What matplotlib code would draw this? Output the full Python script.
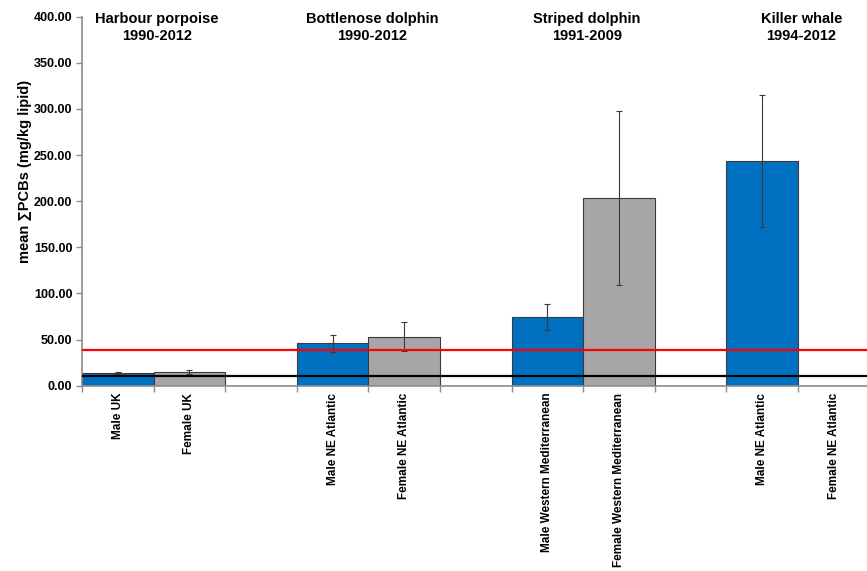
import matplotlib
matplotlib.use("Agg")
import matplotlib.pyplot as plt
import numpy as np

plt.rcParams['font.family'] = ['Liberation Sans', 'DejaVu Sans']

# ---- data ----
categories = ["Male UK", "Female UK", "",
              "Male NE Atlantic", "Female NE Atlantic", "",
              "Male Western Mediterranean", "Female Western Mediterranean", "",
              "Male NE Atlantic", "Female NE Atlantic"]
means = [13.4, 14.5, None, 46.0, 53.1, None, 74.1, 203.5, None, 243.6, None]
errors = [1.0, 2.0, None, 9.0, 16.0, None, 14.0, 94.0, None, 72.0, None]
sexes = ["M", "F", None, "M", "F", None, "M", "F", None, "M", "F"]
groups = ["Harbour porpoise\n1990-2012", "Bottlenose dolphin\n1990-2012",
          "Striped dolphin\n1991-2009", "Killer whale\n1994-2012"]
group_first_index = [0, 3, 6, 9]
threshold_low = 10.0
threshold_high = 38.5
yticks = [0, 50, 100, 150, 200, 250, 300, 350, 400]

colors = {"M": "#0070C0", "F": "#A6A6A6"}
axis_gray = "#8C8C8C"

fig = plt.figure(figsize=(8.67, 5.71), dpi=100)
ax = fig.add_axes([0.0946, 0.3245, 0.9084, 0.6463])

x = np.arange(len(categories))
for i, (m, e, s) in enumerate(zip(means, errors, sexes)):
    if m is None:
        continue
    ax.bar(x[i], m, width=1.0, color=colors[s], edgecolor="#3A3A3A",
           linewidth=0.8, zorder=2)
    ax.errorbar(x[i], m, yerr=e, fmt='none', ecolor="#3A3A3A",
                elinewidth=0.8, capsize=2.5, capthick=0.8, zorder=3)

ax.axhline(threshold_high, color="#FF0000", lw=1.6, zorder=4)
ax.axhline(threshold_low, color="#000000", lw=1.6, zorder=4)

ax.set_xlim(-0.5, len(categories) - 0.5)
ax.set_ylim(0, 400)
ax.set_yticks(yticks)
ax.set_yticklabels([f"{v:.2f}" for v in yticks], fontsize=9, fontweight='bold')

# x ticks at slot boundaries, labels at centres
ax.set_xticks(np.arange(-0.5, len(categories) + 0.5, 1.0))
ax.set_xticklabels([])
ax.set_xticks(x, minor=True)
ax.set_xticklabels(categories, minor=True, rotation=90, fontsize=8.5,
                   fontweight='bold', va='top', ha='center')
ax.tick_params(axis='x', which='minor', length=0, pad=5)
ax.tick_params(axis='x', which='major', length=4, color=axis_gray, width=1)
ax.tick_params(axis='y', length=4, color=axis_gray, width=1, pad=3)

for sp in ["top", "right"]:
    ax.spines[sp].set_visible(False)
for sp in ["left", "bottom"]:
    ax.spines[sp].set_color(axis_gray)
    ax.spines[sp].set_linewidth(1.2)

ax.set_ylabel("mean \u2211PCBs (mg/kg lipid)", fontsize=10.5, fontweight='bold')
ax.yaxis.set_label_coords(-0.063, 0.58)

trans = matplotlib.transforms.blended_transform_factory(ax.transData, fig.transFigure)
for g, i0 in zip(groups, group_first_index):
    ax.text(i0 + 0.55, 1 - 12 / 571, g, transform=trans, ha='center', va='top',
            fontsize=10.5, fontweight='bold', linespacing=1.3)

fig.savefig("out.png", dpi=100)
